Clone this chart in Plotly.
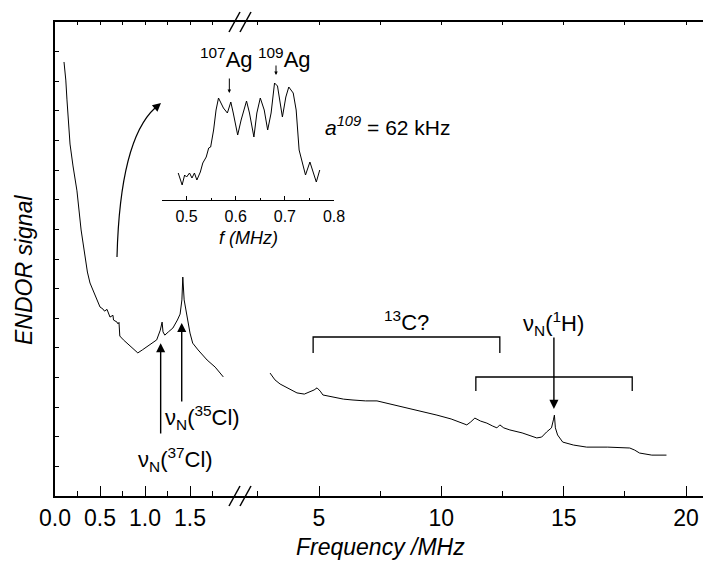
import plotly.graph_objects as go

# ---------------- data ----------------
# low-frequency segment (MHz, ENDOR signal a.u.)
low_freq = [0.10, 0.12, 0.133, 0.15, 0.167, 0.20, 0.244, 0.29, 0.333, 0.36, 0.389, 0.45,
            0.50, 0.533, 0.55, 0.578, 0.611, 0.644, 0.65, 0.689, 0.70, 0.711, 0.72, 0.76,
            0.80, 0.86, 0.92, 0.97, 1.02, 1.08, 1.13, 1.17, 1.19, 1.20, 1.22, 1.26, 1.31,
            1.36, 1.39, 1.41, 1.42, 1.435, 1.47, 1.50, 1.53, 1.59, 1.69, 1.78, 1.87]
low_signal = [14.65, 14.04, 13.37, 12.62, 11.88, 11.14, 10.30, 8.98, 8.03, 7.56, 7.19, 6.72,
              6.38, 6.31, 6.24, 6.30, 6.04, 6.10, 5.94, 5.87, 5.81, 5.86, 5.40, 5.27,
              5.16, 5.00, 4.83, 4.93, 5.03, 5.16, 5.27, 5.60, 5.87, 5.54, 5.43, 5.54, 5.67,
              5.94, 6.14, 6.62, 7.39, 6.62, 6.04, 5.50, 5.16, 4.93, 4.59, 4.35, 4.02]

# high-frequency segment
high_freq = [3.0, 3.2, 3.41, 3.7, 4.1, 4.4, 4.63, 4.8, 4.92, 5.05, 5.16, 5.6, 6.0, 6.39, 6.9,
             7.37, 7.9, 8.43, 9.0, 9.82, 10.4, 11.04, 11.2, 11.37, 11.6, 11.86, 12.1, 12.27,
             12.39, 12.55, 12.8, 13.3, 13.9, 14.1, 14.3, 14.5, 14.58, 14.62, 14.66, 14.75,
             14.96, 15.4, 15.94, 16.8, 17.7, 17.9, 18.1, 18.6, 19.2]
high_signal = [4.15, 3.92, 3.78, 3.65, 3.48, 3.44, 3.51, 3.58, 3.65, 3.54, 3.41, 3.34, 3.27,
               3.24, 3.21, 3.21, 3.11, 3.00, 2.90, 2.73, 2.60, 2.40, 2.50, 2.63, 2.53, 2.46,
               2.36, 2.30, 2.40, 2.30, 2.23, 2.13, 1.96, 1.99, 2.16, 2.30, 2.57, 2.73, 2.30,
               2.06, 1.82, 1.72, 1.65, 1.65, 1.62, 1.55, 1.45, 1.38, 1.38]

# inset: Ag region (MHz, a.u.)
inset_freq = [0.483, 0.487, 0.491, 0.496, 0.500, 0.506, 0.511, 0.516, 0.521, 0.528, 0.533,
              0.540, 0.545, 0.549, 0.555, 0.560, 0.565, 0.570, 0.575, 0.583, 0.590, 0.595,
              0.604, 0.611, 0.622, 0.628, 0.637, 0.643, 0.650, 0.658, 0.665, 0.672, 0.679,
              0.685, 0.695, 0.702, 0.708, 0.717, 0.723, 0.729, 0.737, 0.742, 0.751, 0.759,
              0.764, 0.771]
inset_signal = [27, 20, 15, 25, 23, 27, 22, 27, 20, 28, 37, 43, 52, 53, 70, 90, 102, 97, 92,
                87, 98, 87, 65, 80, 99, 87, 63, 87, 102, 90, 70, 87, 117, 114, 83, 103, 113,
                107, 90, 50, 33, 25, 38, 27, 18, 30]

low_ticks = [0.0, 0.5, 1.0, 1.5]
low_minor = [0.25, 0.75, 1.25, 1.75]
high_ticks = [5, 10, 15, 20]
high_minor = [2.5, 7.5, 12.5, 17.5]
inset_ticks = [0.5, 0.6, 0.7, 0.8]
inset_minor = [0.45, 0.55, 0.65, 0.75]

# peak / bracket positions (MHz)
cl37, cl35, h1 = 1.174, 1.408, 14.6
c13_span = [4.76, 12.39]
h1_span = [11.41, 17.8]
ag107, ag109 = 0.587, 0.682

# ---------------- layout helpers ----------------
W, H = 703, 564
L, R, T, B = 55, 0, 22, 68
PW, PH = W - L - R, H - T - B   # 648 x 474


def px(x):  # page pixel -> paper x
    return (x - L) / PW


def py(y):  # page pixel -> paper y
    return (H - B - y) / PH


FONT = "Liberation Sans, Arial, Helvetica, sans-serif"
BLACK = "#000000"
split = px(240)
low_range = [0, (240 - 55) / 90.0]
high_range = [5 + (240 - 319) / 24.47, 5 + (703 - 319) / 24.47]

fig = go.Figure()
fig.add_trace(go.Scatter(x=low_freq, y=low_signal, mode="lines", xaxis="x", yaxis="y",
                         line=dict(color=BLACK, width=1), hoverinfo="skip"))
fig.add_trace(go.Scatter(x=high_freq, y=high_signal, mode="lines", xaxis="x2", yaxis="y",
                         line=dict(color=BLACK, width=1), hoverinfo="skip"))
fig.add_trace(go.Scatter(x=inset_freq, y=inset_signal, mode="lines", xaxis="x5", yaxis="y2",
                         line=dict(color=BLACK, width=1), hoverinfo="skip"))
# invisible helpers so top tick axes are drawn
fig.add_trace(go.Scatter(x=low_freq[:1], y=low_signal[:1], mode="markers", xaxis="x3",
                         yaxis="y", marker=dict(opacity=0), hoverinfo="skip"))
fig.add_trace(go.Scatter(x=high_freq[:1], y=high_signal[:1], mode="markers", xaxis="x4",
                         yaxis="y", marker=dict(opacity=0), hoverinfo="skip"))

axis_common = dict(showline=True, linecolor=BLACK, linewidth=1.5, ticks="inside",
                   tickcolor=BLACK, tickwidth=1.2, ticklen=10, showgrid=False,
                   zeroline=False, tickfont=dict(family=FONT, size=23, color=BLACK),
                   ticklabelstandoff=1, mirror=True, tickmode="array", automargin=False,
                   ticklabeloverflow="allow")

fig.update_layout(
    width=W, height=H, margin=dict(l=L, r=R, t=T, b=B, autoexpand=False),
    paper_bgcolor="white", plot_bgcolor="white", showlegend=False,
    font=dict(family=FONT, size=22, color=BLACK),
    xaxis=dict(domain=[0, split], range=low_range, anchor="y", tickvals=low_ticks,
               ticktext=["0.0", "0.5", "1.0", "1.5"],
               minor=dict(tickvals=low_minor, ticks="inside", ticklen=5, tickcolor=BLACK,
                          tickwidth=1.2),
               **axis_common),
    xaxis2=dict(domain=[split, 1], range=high_range, anchor="y", tickvals=high_ticks,
                minor=dict(tickvals=high_minor, ticks="inside", ticklen=5, tickcolor=BLACK,
                           tickwidth=1.2),
                **axis_common),
    xaxis3=dict(domain=[0, split], range=low_range, anchor="y", overlaying="x", side="top",
                tickmode="array", tickvals=low_ticks + low_minor, ticks="inside", ticklen=3,
                tickcolor=BLACK, showticklabels=False, showline=False, showgrid=False,
                zeroline=False, automargin=False),
    xaxis4=dict(domain=[split, 1], range=high_range, anchor="y", overlaying="x2", side="top",
                tickmode="array", tickvals=high_ticks + high_minor, ticks="inside", ticklen=3,
                tickcolor=BLACK, showticklabels=False, showline=False, showgrid=False,
                zeroline=False, automargin=False),
    yaxis=dict(domain=[0, 1], range=[0, 16], anchor="x", showline=True, linecolor=BLACK,
               linewidth=1.5, ticks="inside", ticklen=4, tickcolor=BLACK, dtick=1,
               tick0=0, showticklabels=False, showgrid=False, zeroline=False,
               automargin=False),
    xaxis5=dict(domain=[px(162), px(334)], range=[0.45, 0.8], anchor="y2",
                showline=True, linecolor=BLACK, linewidth=1, ticks="inside", ticklen=4,
                tickcolor=BLACK, tickwidth=1, tickmode="array", tickvals=inset_ticks,
                ticktext=["0.5", "0.6", "0.7", "0.8"],
                minor=dict(tickvals=inset_minor, ticks="inside", ticklen=2, tickcolor=BLACK),
                showgrid=False, zeroline=False, automargin=False,
                tickfont=dict(family=FONT, size=16, color=BLACK), ticklabelstandoff=2),
    yaxis2=dict(domain=[py(200), py(70)], range=[0, 130], anchor="x5", visible=False,
                automargin=False),
)

ann = []
# axis titles
ann.append(dict(text="<i>Frequency /MHz</i>", xref="paper", yref="paper", x=px(380),
                y=py(547), showarrow=False, font=dict(size=23), xanchor="center",
                yanchor="middle"))
ann.append(dict(text="<i>ENDOR signal</i>", xref="paper", yref="paper", x=px(24),
                y=py(270), showarrow=False, font=dict(size=23), textangle=-90,
                xanchor="center", yanchor="middle"))
ann.append(dict(text="<i>f (MHz)</i>", xref="paper", yref="paper", x=px(248), y=py(238),
                showarrow=False, font=dict(size=18), xanchor="center", yanchor="middle"))
# Ag labels
ann.append(dict(text="<sup>107</sup>Ag", xref="paper", yref="paper", x=px(226), y=py(58),
                showarrow=False, font=dict(size=22), xanchor="center", yanchor="middle"))
ann.append(dict(text="<sup>109</sup>Ag", xref="paper", yref="paper", x=px(284), y=py(58),
                showarrow=False, font=dict(size=22), xanchor="center", yanchor="middle"))
ann.append(dict(text="<i>a</i><sup><i>109</i></sup> = 62 kHz", xref="paper", yref="paper",
                x=px(388), y=py(126), showarrow=False, font=dict(size=21),
                xanchor="center", yanchor="middle"))
# small Ag arrows
ann.append(dict(x=ag107, y=107, ax=ag107, ay=123, xref="x5", yref="y2", axref="x5",
                ayref="y2", text="", showarrow=True, arrowhead=2, arrowsize=0.7,
                arrowwidth=1, arrowcolor=BLACK))
ann.append(dict(x=ag109, y=125, ax=ag109, ay=136, xref="x5", yref="y2", axref="x5",
                ayref="y2", text="", showarrow=True, arrowhead=2, arrowsize=0.7,
                arrowwidth=1, arrowcolor=BLACK))
# Cl arrows and labels
ann.append(dict(x=cl37, y=5.16, ax=cl37, ay=2.06, xref="x", yref="y", axref="x", ayref="y",
                text="", showarrow=True, arrowhead=2, arrowsize=1.3, arrowwidth=1.4,
                arrowcolor=BLACK))
ann.append(dict(x=cl35, y=5.84, ax=cl35, ay=3.14, xref="x", yref="y", axref="x", ayref="y",
                text="", showarrow=True, arrowhead=2, arrowsize=1.3, arrowwidth=1.4,
                arrowcolor=BLACK))
ann.append(dict(text="ν<sub>N</sub>(<sup>35</sup>Cl)", xref="paper", yref="paper",
                x=px(202), y=py(417), showarrow=False, font=dict(size=22),
                xanchor="center", yanchor="middle"))
ann.append(dict(text="ν<sub>N</sub>(<sup>37</sup>Cl)", xref="paper", yref="paper",
                x=px(175), y=py(459), showarrow=False, font=dict(size=22),
                xanchor="center", yanchor="middle"))
# 13C and 1H labels
ann.append(dict(text="<sup>13</sup>C?", xref="paper", yref="paper", x=px(406), y=py(321),
                showarrow=False, font=dict(size=22), xanchor="center", yanchor="middle"))
ann.append(dict(text="ν<sub>N</sub>(<sup>1</sup>H)", xref="paper", yref="paper", x=px(553),
                y=py(323), showarrow=False, font=dict(size=22), xanchor="center",
                yanchor="middle"))
ann.append(dict(x=h1, y=2.94, ax=h1, ay=5.40, xref="x2", yref="y", axref="x2", ayref="y",
                text="", showarrow=True, arrowhead=2, arrowsize=1.3, arrowwidth=1.4,
                arrowcolor=BLACK))
# head of curved arrow
ann.append(dict(x=px(161), y=py(103), xref="paper", yref="paper", ax=-8, ay=7, text="",
                showarrow=True, arrowhead=2, arrowsize=1.4, arrowwidth=1.2,
                arrowcolor=BLACK))
fig.update_layout(annotations=ann)

shapes = []
# brackets
for span, yh, yl in [(c13_span, 5.367, 4.827), (h1_span, 4.017, 3.544)]:
    shapes.append(dict(type="path", xref="x2", yref="y",
                       path=f"M {span[0]},{yl} L {span[0]},{yh} L {span[1]},{yh} L {span[1]},{yl}",
                       line=dict(color=BLACK, width=1.3)))
# curved arrow body
shapes.append(dict(type="path", xref="paper", yref="paper",
                   path=f"M {px(117)},{py(257)} Q {px(120)},{py(140)} {px(155)},{py(108)}",
                   line=dict(color=BLACK, width=1.2)))
# axis break marks
for ybot, ytop in [(506, 486), (32, 12)]:
    for x0 in (229, 240):
        shapes.append(dict(type="line", xref="paper", yref="paper", x0=px(x0), y0=py(ybot),
                           x1=px(x0 + 11), y1=py(ytop), line=dict(color=BLACK, width=1.5)))
fig.update_layout(shapes=shapes)

# remove the default page margin so the 703x564 figure fills the window exactly
fig.write_html("out.html",
               config={"displayModeBar": False},
               post_script="document.body.style.margin='0';"
                           "document.body.style.overflow='hidden';")
